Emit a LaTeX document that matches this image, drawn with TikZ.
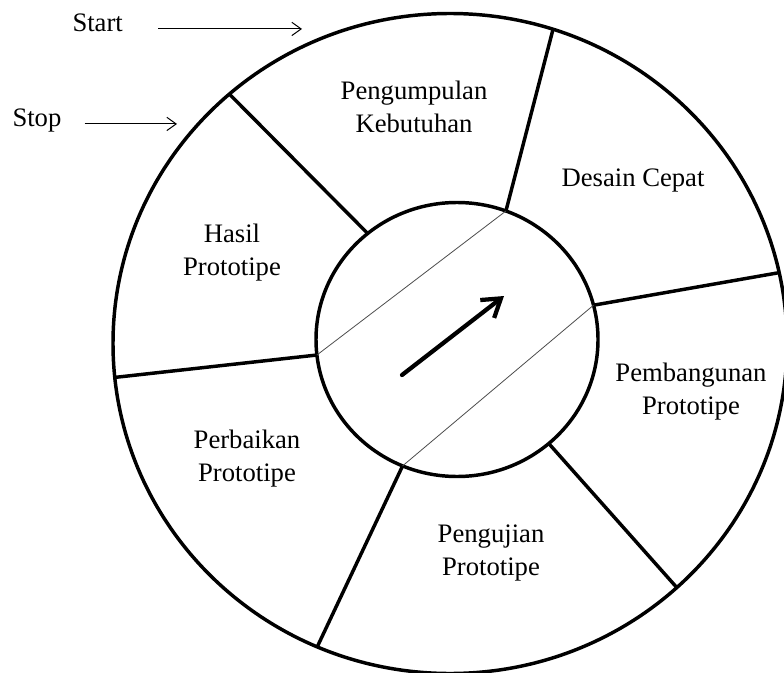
\documentclass[tikz,border=0pt]{standalone}
\usepackage{fontspec}
\setmainfont{Liberation Serif}
\usetikzlibrary{arrows.meta,calc}

\tikzset{every picture/.style={line width=0.75pt}}
\tikzset{
  rim/.style={line width=2.6pt},
  spoke/.style={line width=2.6pt},
  seam/.style={line width=0.6pt, color=black!70},
  phase/.style={inner sep=0pt, align=center, font=\fontsize{20}{24.75}\selectfont},
  hint/.style={-{Straight Barb[length=7pt,width=10pt]}, line width=0.75pt},
  turn/.style={-{Straight Barb[length=13pt,width=17pt]}, line width=3.2pt, line cap=round}
}

\begin{document}
\begin{tikzpicture}[x=0.75pt,y=0.75pt,yscale=-1,xscale=1]
\useasboundingbox (0,0) rectangle (784,673);

%Centres
\coordinate (rimc) at (450,343.5);
\coordinate (hubc) at (457,339.5);

%Shape: Ellipse [outer ring]
\draw [rim] (rimc) ellipse (337 and 330);
%Shape: Ellipse [hub]
\draw [rim] (hubc) ellipse (141 and 137);

%Spoke ends on the hub
\coordinate (h1) at ($(hubc)+(230.7:141 and 137)$);
\coordinate (h2) at ($(hubc)+(290.3:141 and 137)$);
\coordinate (h3) at ($(hubc)+(345.5:141 and 137)$);
\coordinate (h4) at ($(hubc)+(49.4:141 and 137)$);
\coordinate (h5) at ($(hubc)+(112.7:141 and 137)$);
\coordinate (h6) at ($(hubc)+(173.5:141 and 137)$);
%Spoke ends on the ring
\coordinate (r1) at ($(rimc)+(229.1:337 and 330)$);
\coordinate (r2) at ($(rimc)+(287.8:337 and 330)$);
\coordinate (r3) at ($(rimc)+(347.6:337 and 330)$);
\coordinate (r4) at ($(rimc)+(47.7:337 and 330)$);
\coordinate (r5) at ($(rimc)+(113.2:337 and 330)$);
\coordinate (r6) at ($(rimc)+(174.1:337 and 330)$);

%Straight Lines [spokes]
\foreach \i in {1,...,6}
  \draw [spoke] (h\i) -- (r\i);
%Straight Lines [seams]
\draw [seam] (h6) -- (h2);
\draw [seam] (h5) -- (h3);

%Straight Lines [turn arrow]
\coordinate (turnTail) at (402,375);
\coordinate (turnTip) at (504,296);
\draw [turn] (turnTail) -- (turnTip);

% Text Node
\draw (414,106.5) node [phase] (kebutuhan) {Pengumpulan\\Kebutuhan};
% Text Node
\draw (633,181) node [phase] (desain) {Desain Cepat};
% Text Node
\draw (691,392) node [phase] (pembangunan) {Pembangunan\\Prototipe};
% Text Node
\draw (491,553.5) node [phase] (pengujian) {Pengujian\\Prototipe};
% Text Node
\draw (247,459) node [phase] (perbaikan) {Perbaikan\\Prototipe};
% Text Node
\draw (232,253) node [phase] (hasil) {Hasil\\Prototipe};

% Text Node
\draw (72,32) node [phase, anchor=base west] (start) {Start};
% Text Node
\draw (12,127) node [phase, anchor=base west] (stop) {Stop};

%Straight Lines [start / stop]
\coordinate (startTip) at (302,23);
\coordinate (stopTip) at (177,123);
\draw [hint, shorten <=26pt] (start.mid east) -- (start.mid east -| startTip);
\draw [hint, shorten <=17pt] (stop.mid east) -- (stop.mid east -| stopTip);

\end{tikzpicture}
\end{document}
